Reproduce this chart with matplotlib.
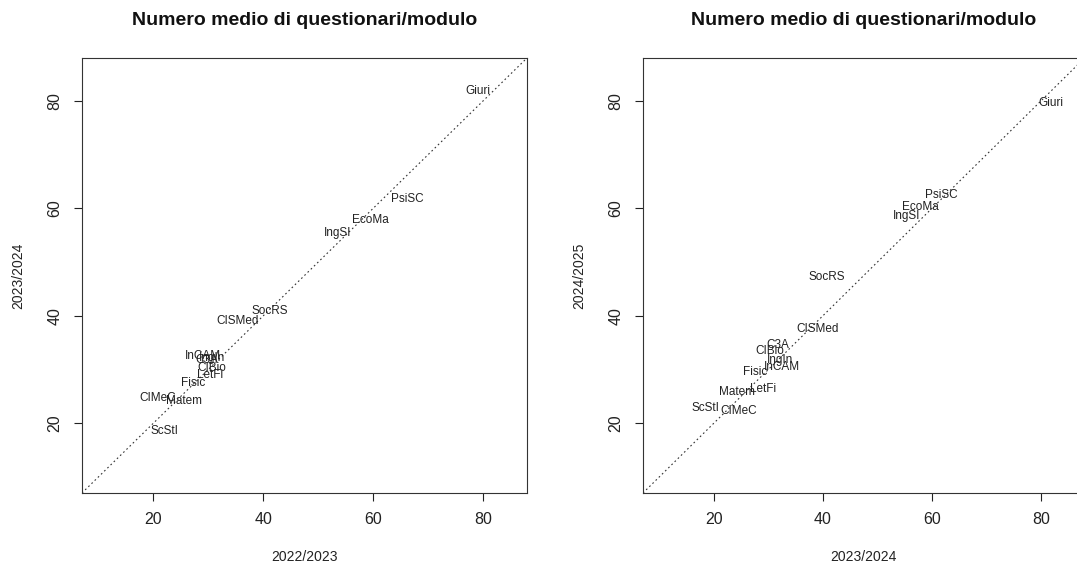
import matplotlib
matplotlib.use("Agg")
import matplotlib.pyplot as plt

# sigle dei dipartimenti / centri
sigle = ["Giuri", "PsiSC", "EcoMa", "IngSI", "SocRS", "CISMed", "C3A", "CIBio",
         "IngIn", "InCAM", "Fisic", "LetFi", "Matem", "ScStI", "CIMeC"]

# numero medio di questionari per modulo, per anno accademico
a2223 = [79.1, 66.2, 59.5, 53.5, 41.1, 35.3, 29.8, 30.7, 30.7, 29.1, 27.3, 30.4, 25.6, 22.0, 20.7]
a2324 = [81.9, 61.8, 57.8, 55.4, 40.8, 39.0, 31.8, 30.2, 32.1, 32.5, 27.5, 29.0, 24.2, 18.5, 24.6]
a2425 = [79.7, 62.4, 60.3, 58.5, 47.3, 37.6, 34.6, 33.5, 31.8, 30.5, 29.6, 26.3, 25.9, 22.9, 22.2]

titolo = "Numero medio di questionari/modulo"
lim = (7, 88)
ticks = [20, 40, 60, 80]

plt.rcParams['font.family'] = ['Liberation Sans', 'DejaVu Sans']

fig = plt.figure(figsize=(10.77, 5.67), dpi=100)
ax1 = fig.add_axes([0.0761, 0.1305, 0.4132, 0.7672])
ax2 = fig.add_axes([0.5970, 0.1305, 0.4100, 0.7672])


def pannello(ax, x, y, xlab, ylab):
    ax.set_xlim(lim)
    ax.set_ylim(lim)
    # bisettrice: stesso valore nei due anni
    ax.plot(lim, lim, linestyle=(0, (1.5, 2.5)), color='#333333', lw=0.8)
    for s, xi, yi in zip(sigle, x, y):
        ax.text(xi, yi, s, ha='center', va='center', fontsize=8.5, color='#222222')
    ax.set_xticks(ticks)
    ax.set_yticks(ticks)
    ax.tick_params(labelsize=11.5, length=6, width=0.8, colors='#222222', pad=8)
    for t in ax.get_yticklabels():
        t.set_rotation(90)
        t.set_va('center')
    for sp in ax.spines.values():
        sp.set_color('#333333')
        sp.set_linewidth(0.8)
    ax.set_xlabel(xlab, fontsize=10, color='#222222', labelpad=16)
    ax.set_ylabel(ylab, fontsize=10, color='#222222', labelpad=16)
    ax.set_title(titolo, fontsize=14, fontweight='bold', color='#111111', pad=24)


pannello(ax1, a2223, a2324, "2022/2023", "2023/2024")
pannello(ax2, a2324, a2425, "2023/2024", "2024/2025")

fig.savefig("out.png", dpi=100)
